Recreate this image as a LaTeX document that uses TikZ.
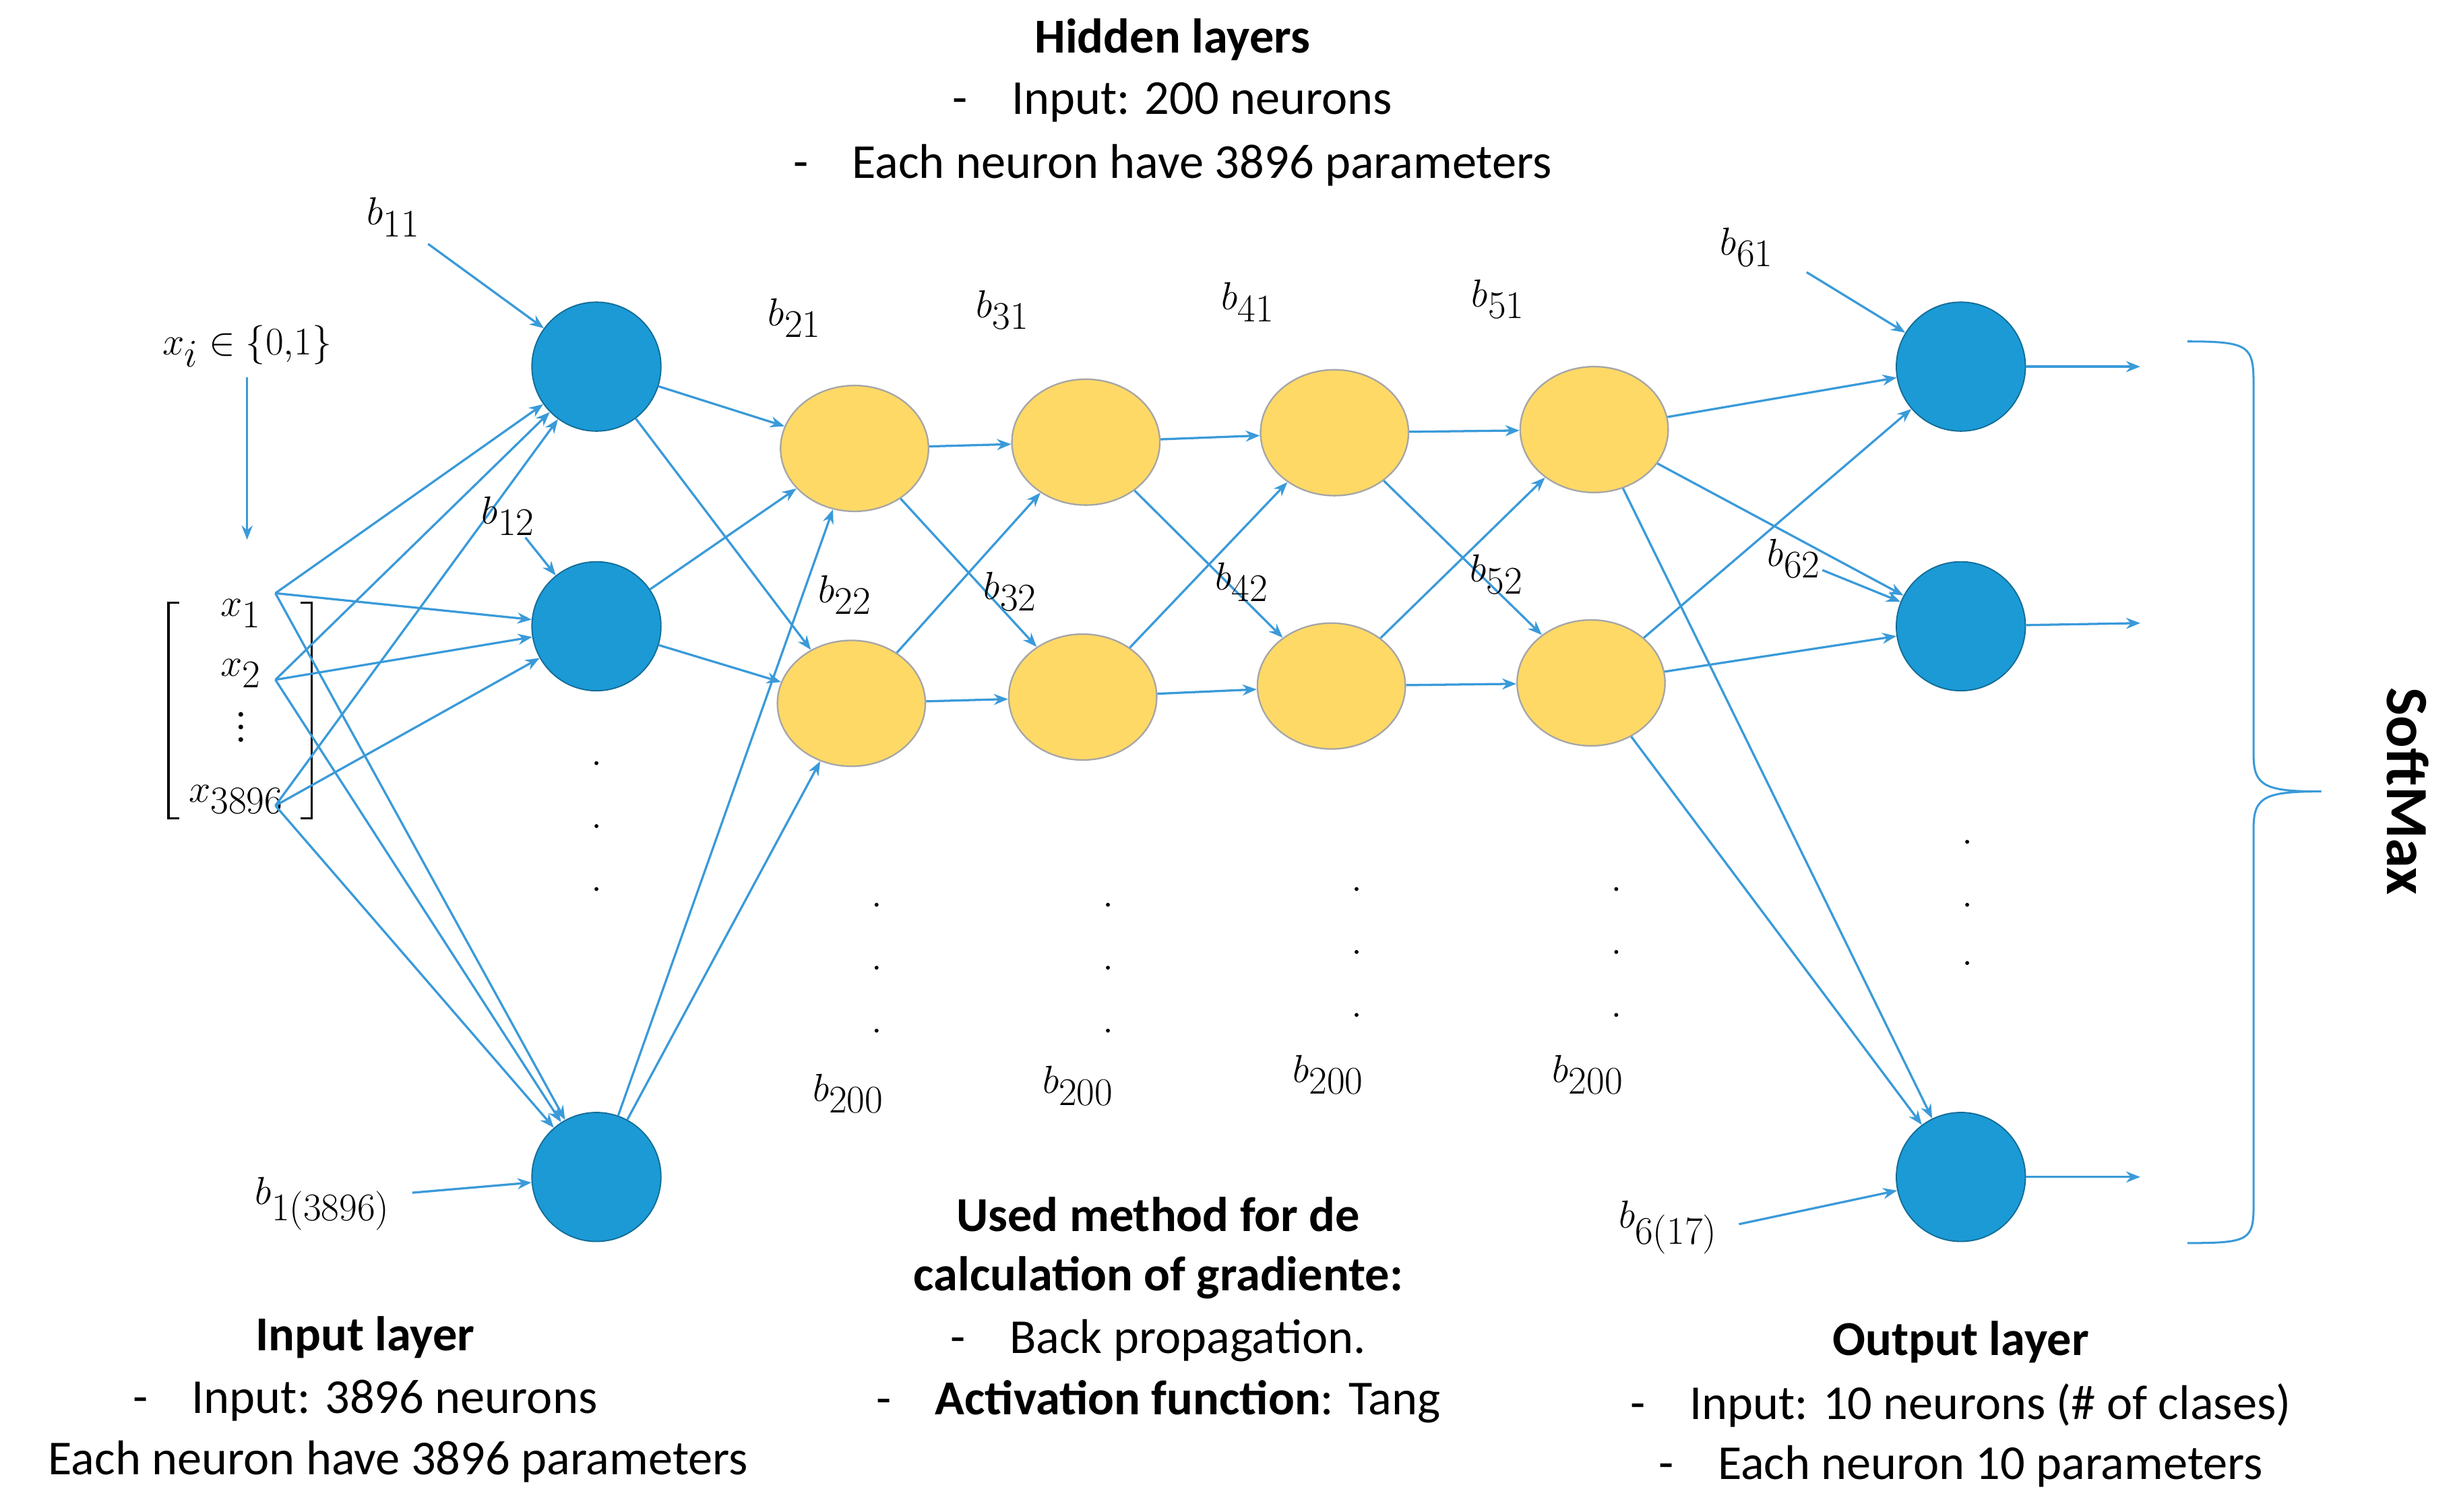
\documentclass[tikz,border=0pt]{standalone}
\usepackage{fontspec}
\setmainfont{Carlito}
\usetikzlibrary{arrows.meta,shapes.geometric}
\definecolor{nb}{HTML}{1B9AD6}
\definecolor{ny}{HTML}{FFD966}
\definecolor{ln}{HTML}{3A9AD9}
\begin{document}
\begin{tikzpicture}[x=1pt,y=-1pt,
 blue/.style={circle,fill=nb,draw=nb!70!black,line width=0.8pt,minimum size=82pt,inner sep=0},
 yel/.style={ellipse,fill=ny,draw=gray!70,line width=1pt,minimum width=94pt,minimum height=80pt,inner sep=0},
 con/.style={ln,line width=1.4pt,-{Stealth[length=9pt,width=7pt]}},
 lab/.style={font=\fontsize{36}{38}\selectfont,inner sep=1pt},
 txt/.style={font=\fontsize{31}{34}\selectfont,align=center},
 dot/.style={circle,fill=black,inner sep=0,minimum size=2.5pt}]
\useasboundingbox (0,0) rectangle (1560,960.5);
% neurons
\node[blue] (i1) at (379,233) {}; \node[blue] (i2) at (379,398) {}; \node[blue] (i3) at (379,748) {};
\node[yel] (a1) at (543,285) {}; \node[yel] (a2) at (541,447) {};
\node[yel] (b1) at (690,281) {}; \node[yel] (b2) at (688,443) {};
\node[yel] (c1) at (848,275) {}; \node[yel] (c2) at (846,436) {};
\node[yel] (d1) at (1013,273) {}; \node[yel] (d2) at (1011,434) {};
\node[blue] (o1) at (1246,233) {}; \node[blue] (o2) at (1246,398) {}; \node[blue] (o3) at (1246,748) {};
% input vector
\coordinate (x1) at (175,377); \coordinate (x2) at (175,432); \coordinate (x3) at (175,512);
\node[lab] at (153,390) {$x_1$}; \node[lab] at (153,428) {$x_2$};
\foreach \y in {454,462,470} \node[dot,minimum size=3pt] at (153,\y) {};
\node[lab] at (150,508) {$x_{3896}$};
\draw[line width=1.5pt] (114,383) -- (107,383) -- (107,520) -- (114,520);
\draw[line width=1.5pt] (191,383) -- (198,383) -- (198,520) -- (191,520);
\foreach \s in {x1,x2,x3} \foreach \t in {i1,i2,i3} \draw[con] (\s) -- (\t);
\foreach \s in {i1,i2,i3} \foreach \t in {a1,a2} \draw[con] (\s) -- (\t);
\foreach \s in {a1,a2} \foreach \t in {b1,b2} \draw[con] (\s) -- (\t);
\foreach \s in {b1,b2} \foreach \t in {c1,c2} \draw[con] (\s) -- (\t);
\foreach \s in {c1,c2} \foreach \t in {d1,d2} \draw[con] (\s) -- (\t);
\foreach \s in {d1,d2} \foreach \t in {o1,o2,o3} \draw[con] (\s) -- (\t);
\coordinate (e1) at (1360,233); \coordinate (e2) at (1360,396); \coordinate (e3) at (1360,748);
\draw[con] (o1) -- (e1); \draw[con] (o2) -- (e2); \draw[con] (o3) -- (e3);
% bias labels
\node[lab] (xi) at (157,220) {$x_i\in\{0{,}1\}$};
\coordinate (xe) at (157,343); \draw[con] (157,240) -- (xe);
\node[lab] (b11) at (250,138) {$b_{11}$}; \draw[con] (272,155) -- (i1);
\node[lab] (b12) at (323,328) {$b_{12}$}; \draw[con] (b12) -- (i2);
\node[lab] (b13) at (205,765) {$b_{1(3896)}$}; \draw[con] (262,758) -- (i3);
\node[lab] (b61) at (1110,157) {$b_{61}$}; \draw[con] (1148,173) -- (o1);
\node[lab] (b62) at (1140,355) {$b_{62}$}; \draw[con] (b62) -- (o2);
\node[lab] (b63) at (1060,780) {$b_{6(17)}$}; \draw[con] (1105,778) -- (o3);
\node[lab] at (505,202) {$b_{21}$}; \node[lab] at (637,197) {$b_{31}$};
\node[lab] at (793,192) {$b_{41}$}; \node[lab] at (952,190) {$b_{51}$};
\node[lab] at (537,378) {$b_{22}$}; \node[lab] at (642,376) {$b_{32}$};
\node[lab] at (789,370) {$b_{42}$}; \node[lab] at (951,365) {$b_{52}$};
\foreach \x/\y in {539/695,685/690,844/683,1009/683} \node[lab] at (\x,\y) {$b_{200}$};
% dots
\foreach \y in {485,525,565} \node[dot] at (379,\y) {};
\foreach \x in {557,704} \foreach \y in {575,615,655} \node[dot] at (\x,\y) {};
\foreach \x in {862,1027} \foreach \y in {565,605,645} \node[dot] at (\x,\y) {};
\foreach \y in {535,575,612} \node[dot] at (1250,\y) {};
% brace
\draw[ln,line width=1.3pt] (1390,217) .. controls (1430,217) and (1432,220) .. (1432,245) -- (1432,480) .. controls (1432,500) and (1440,503) .. (1475,503)
 .. controls (1440,503) and (1432,506) .. (1432,526) -- (1432,765) .. controls (1432,788) and (1430,790) .. (1390,790);
\node[txt,font=\fontsize{38}{40}\selectfont\bfseries,rotate=-90] at (1530,503) {SoftMax};
% texts
\node[txt] at (745,25) {\textbf{Hidden layers}};
\node[txt] at (745,65) {-\hspace{28pt}Input: 200 neurons};
\node[txt] at (745,105) {-\hspace{28pt}Each neuron have 3896 parameters};
\node[txt] at (232,850) {\textbf{Input layer}};
\node[txt] at (232,890) {-\hspace{28pt}Input: 3896 neurons};
\node[txt] at (253,929) {Each neuron have 3896 parameters};
\node[txt] at (736,772) {\textbf{Used method for de}};
\node[txt] at (736,812) {\textbf{calculation of gradiente:}};
\node[txt] at (736,852) {-\hspace{28pt}Back propagation.};
\node[txt] at (736,891) {-\hspace{28pt}\textbf{Activation function}: Tang};
\node[txt] at (1246,853) {\textbf{Output layer}};
\node[txt] at (1246,893) {-\hspace{28pt}Input: 10 neurons (\# of clases)};
\node[txt] at (1246,932) {-\hspace{28pt}Each neuron 10 parameters};
\end{tikzpicture}
\end{document}
